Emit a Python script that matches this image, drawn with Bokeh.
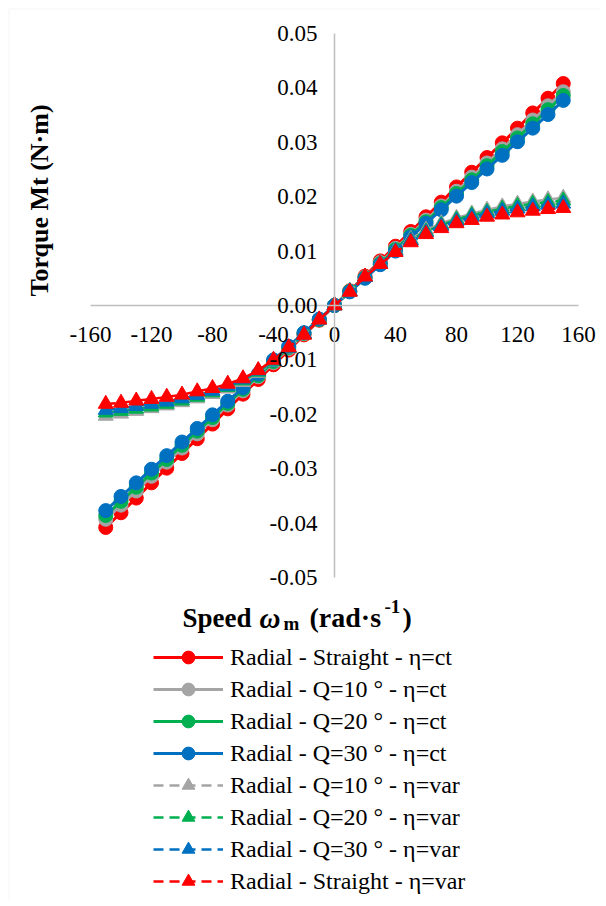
from bokeh.plotting import figure
from bokeh.models import (Range1d, Legend, LegendItem, Label, NumeralTickFormatter, FixedTicker,
                          ColumnDataSource, BoxAnnotation)
from bokeh.embed import file_html
from bokeh.resources import INLINE
import math

speed = [-150, -140, -130, -120, -110, -100, -90, -80, -70, -60, -50, -40, -30, -20, -10, 0,
         10, 20, 30, 40, 50, 60, 70, 80, 90, 100, 110, 120, 130, 140, 150]

straight_ct = [-0.0408, -0.0381, -0.0354, -0.0326, -0.0299, -0.0272, -0.0245, -0.0218, -0.0190, -0.0163,
               -0.0136, -0.0109, -0.0082, -0.0054, -0.0027, 0.0, 0.0027, 0.0054, 0.0082, 0.0109, 0.0136,
               0.0163, 0.0190, 0.0218, 0.0245, 0.0272, 0.0299, 0.0326, 0.0354, 0.0381, 0.0408]
q10_ct = [-0.0393, -0.0367, -0.0341, -0.0314, -0.0288, -0.0262, -0.0236, -0.0210, -0.0183, -0.0157,
          -0.0131, -0.0105, -0.0079, -0.0052, -0.0026, 0.0, 0.0026, 0.0052, 0.0079, 0.0105, 0.0131,
          0.0157, 0.0183, 0.0210, 0.0236, 0.0262, 0.0288, 0.0314, 0.0341, 0.0367, 0.0393]
q20_ct = [-0.0386, -0.0360, -0.0334, -0.0308, -0.0283, -0.0257, -0.0231, -0.0206, -0.0180, -0.0154,
          -0.0129, -0.0103, -0.0077, -0.0051, -0.0026, 0.0, 0.0026, 0.0051, 0.0077, 0.0103, 0.0129,
          0.0154, 0.0180, 0.0206, 0.0231, 0.0257, 0.0283, 0.0308, 0.0334, 0.0360, 0.0386]
q30_ct = [-0.0377, -0.0351, -0.0326, -0.0301, -0.0276, -0.0251, -0.0226, -0.0201, -0.0176, -0.0151,
          -0.0126, -0.0100, -0.0075, -0.0050, -0.0025, 0.0, 0.0025, 0.0050, 0.0075, 0.0100, 0.0126,
          0.0151, 0.0176, 0.0201, 0.0226, 0.0251, 0.0276, 0.0301, 0.0326, 0.0351, 0.0377]
q10_var = [-0.0203, -0.0199, -0.0194, -0.0189, -0.0184, -0.0178, -0.0171, -0.0163, -0.0153, -0.0141,
           -0.0124, -0.0103, -0.0079, -0.0053, -0.0026, 0.0, 0.0026, 0.0053, 0.0078, 0.0102, 0.0122,
           0.0139, 0.0151, 0.0161, 0.0169, 0.0176, 0.0182, 0.0187, 0.0191, 0.0195, 0.0198]
q20_var = [-0.0197, -0.0194, -0.0190, -0.0186, -0.0181, -0.0175, -0.0168, -0.0160, -0.0150, -0.0138,
           -0.0122, -0.0102, -0.0078, -0.0053, -0.0026, 0.0, 0.0026, 0.0053, 0.0077, 0.0101, 0.0120,
           0.0136, 0.0148, 0.0158, 0.0166, 0.0172, 0.0178, 0.0183, 0.0187, 0.0190, 0.0193]
q30_var = [-0.0192, -0.0189, -0.0185, -0.0181, -0.0177, -0.0171, -0.0165, -0.0157, -0.0148, -0.0136,
           -0.0120, -0.0101, -0.0078, -0.0052, -0.0026, 0.0, 0.0026, 0.0052, 0.0077, 0.0100, 0.0119,
           0.0134, 0.0146, 0.0155, 0.0163, 0.0169, 0.0174, 0.0178, 0.0182, 0.0185, 0.0187]
straight_var = [-0.0181, -0.0179, -0.0175, -0.0172, -0.0168, -0.0164, -0.0158, -0.0152, -0.0144, -0.0134,
                -0.0119, -0.0100, -0.0077, -0.0054, -0.0026, 0.0, 0.0025, 0.0053, 0.0076, 0.0098, 0.0116,
                0.0131, 0.0142, 0.0151, 0.0157, 0.0163, 0.0167, 0.0171, 0.0174, 0.0177, 0.0179]

x_ticks = [-160, -120, -80, -40, 0, 40, 80, 120, 160]
y_ticks = [-0.05, -0.04, -0.03, -0.02, -0.01, 0.0, 0.01, 0.02, 0.03, 0.04, 0.05]
x_bounds = (-160, 160)
y_bounds = (-0.05, 0.05)

series = [
    ("Radial - Straight - η=ct", straight_ct, "#FF0000", "circle", "solid"),
    ("Radial - Q=10 ° - η=ct", q10_ct, "#A5A5A5", "circle", "solid"),
    ("Radial - Q=20 ° - η=ct", q20_ct, "#00B050", "circle", "solid"),
    ("Radial - Q=30 ° - η=ct", q30_ct, "#0070C0", "circle", "solid"),
    ("Radial - Q=10 ° - η=var", q10_var, "#A5A5A5", "triangle", "10 6"),
    ("Radial - Q=20 ° - η=var", q20_var, "#00B050", "triangle", "10 6"),
    ("Radial - Q=30 ° - η=var", q30_var, "#0070C0", "triangle", "10 6"),
    ("Radial - Straight - η=var", straight_var, "#FF0000", "triangle", "10 6"),
]

FONT = "Liberation Serif"
W, H = 600, 900
# axes box inside the canvas, in pixels
L, R, T, B = 90, 578, 33, 577
xs = (x_bounds[1] - x_bounds[0]) / (R - L)
ys = (y_bounds[1] - y_bounds[0]) / (B - T)
xr = Range1d(x_bounds[0] - L * xs, x_bounds[1] + (W - R) * xs)
yr = Range1d(y_bounds[0] - (H - B) * ys, y_bounds[1] + T * ys)


def dx(px):
    return xr.start + px * xs


def dy(py):
    return yr.end - py * ys


p = figure(width=W, height=H, output_backend="svg", toolbar_location=None,
           x_range=xr, y_range=yr,
           min_border_left=0, min_border_right=0, min_border_top=0, min_border_bottom=0)
p.outline_line_color = None
p.grid.visible = False

# chart-area border (left and top edges visible)
p.add_layout(BoxAnnotation(left=dx(8.5), right=dx(W + 50), top=dy(8.5), bottom=dy(H + 50),
                           fill_alpha=0, line_color="#D9D9D9", line_width=1))

for ax in (p.xaxis[0], p.yaxis[0]):
    ax.fixed_location = 0
    ax.axis_line_color = "#BFBFBF"
    ax.axis_line_width = 1.5
    ax.major_tick_line_color = None
    ax.minor_tick_line_color = None
    ax.major_label_text_font = FONT
    ax.major_label_text_font_size = "23px"
    ax.major_label_text_color = "#000000"

p.xaxis.bounds = x_bounds
p.yaxis.bounds = y_bounds
p.xaxis.ticker = FixedTicker(ticks=x_ticks)
p.yaxis.ticker = FixedTicker(ticks=y_ticks)
p.xaxis.formatter = NumeralTickFormatter(format="0")
p.yaxis.formatter = NumeralTickFormatter(format="0.00")
p.xaxis.major_label_standoff = 15
p.yaxis.major_label_standoff = 11

items = []
for name, vals, color, marker, dash in series:
    src = ColumnDataSource(dict(x=speed, y=vals))
    lw = 3 if dash == "solid" else 2.5
    r1 = p.line("x", "y", source=src, line_color=color, line_width=lw, line_dash=dash)
    r2 = p.scatter("x", "y", source=src, marker=marker, size=14 if marker == "circle" else 15,
                   fill_color=color, line_color=color, line_width=1)
    items.append(LegendItem(label=name, renderers=[r1, r2]))

legend = Legend(items=items, location=(153, 3), orientation="vertical",
                glyph_width=70, glyph_height=32, label_height=32, spacing=0,
                label_standoff=7, padding=0, margin=0,
                border_line_alpha=0, background_fill_alpha=0,
                label_text_font=FONT, label_text_font_size="24px", label_text_color="#000000")
p.add_layout(legend, "center")

# y title
p.add_layout(Label(x=dx(39), y=dy(200), text="Torque Mt (N·m)", angle=math.pi / 2,
                   text_align="center", text_baseline="middle", text_font=FONT,
                   text_font_style="bold", text_font_size="26px", text_color="#000000"))

# x title, composed of fragments (pixel x, pixel baseline)
frags = [
    (182, 617, "Speed", "bold", "27px"),
    (259, 617, "ω", "bold italic", "29px"),
    (283, 623, "m", "bold", "19px"),
    (309, 617, "(rad·s", "bold", "28px"),
    (384, 606, "-1", "bold", "19px"),
    (402, 617, ")", "bold", "28px"),
]
for fx, fy, t, st, sz in frags:
    p.add_layout(Label(x=dx(fx), y=dy(fy), text=t, text_align="left", text_baseline="alphabetic",
                       text_font=FONT, text_font_style=st, text_font_size=sz, text_color="#000000"))

open("out.html", "w").write(file_html(p, INLINE))
